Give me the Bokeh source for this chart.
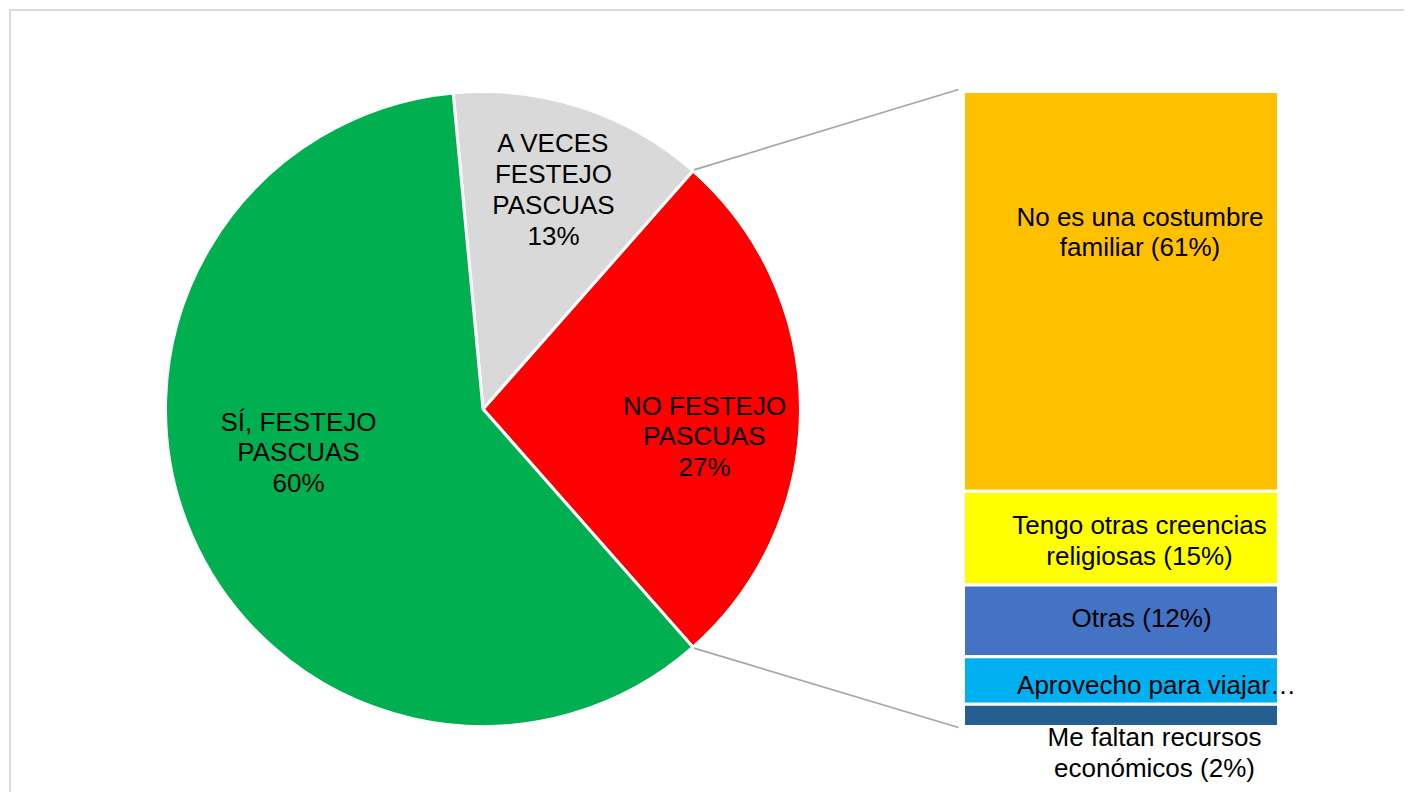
import math
from bokeh.plotting import figure
from bokeh.models import Range1d, ColumnDataSource
from bokeh.core.properties import value
from bokeh.embed import file_html
from bokeh.resources import INLINE

# ---- data ----
pie_labels = ["NO FESTEJO\nPASCUAS\n27%", "A VECES\nFESTEJO\nPASCUAS\n13%", "SÍ, FESTEJO\nPASCUAS\n60%"]
pie_values = [27, 13, 60]
pie_colors = ["#FF0000", "#D9D9D9", "#00B050"]

bar_labels = ["No es una costumbre\nfamiliar (61%)", "Tengo otras creencias\nreligiosas (15%)",
              "Otras (12%)", "Aprovecho para viajar…", "Me faltan recursos\neconómicos (2%)"]
bar_values = [63, 14.8, 11.3, 7.5, 3.5]
bar_colors = ["#FFC000", "#FFFF00", "#4472C4", "#00B0F0", "#255E91"]

# ---- layout (pixel space, screenshot coords) ----
W, H = 1404, 792
def X(px): return px
def Y(py): return H - py

cx, cy, R = X(482.5), Y(408.5), 317.5
bar_left, bar_right = X(963), X(1278)
bar_top, bar_bottom = Y(91), Y(726)

# label positions (px)
pie_label_pos = [(704, 436), (553, 189), (298, 452)]
bar_label_pos = [(1139.5, 231.5), (1139, 540), (1141, 617), (1156, 684), (1154, 752)]

FONT = value("Liberation Sans")

p = figure(width=W, height=H, output_backend="svg", toolbar_location=None,
           x_range=Range1d(0, W), y_range=Range1d(0, H), min_border=0)
p.axis.visible = False
p.grid.visible = False
p.outline_line_color = None
p.background_fill_color = "white"

# outer chart border (left & top)
p.line(x=[X(9.5), X(9.5), W + 5], y=[-5, Y(9.5), Y(9.5)], line_color="#D9D9D9", line_width=2)

# pie: first slice centred on 0 rad
total = sum(pie_values)
red_half = pie_values[0] / total * math.pi
starts, ends = [], []
a = -red_half
for v in pie_values:
    da = v / total * 2 * math.pi
    starts.append(a)
    ends.append(a + da)
    a += da
src = ColumnDataSource(dict(start=starts, end=ends, color=pie_colors))
p.wedge(x=cx, y=cy, radius=R, start_angle="start", end_angle="end", fill_color="color",
        line_color="white", line_width=3, source=src)

# connector lines
ux, uy = cx + R * math.cos(red_half), cy + R * math.sin(red_half)
lx, ly = cx + R * math.cos(-red_half), cy + R * math.sin(-red_half)
p.segment(x0=[ux + 1, lx + 1], y0=[uy + 1, ly - 1], x1=[bar_left - 5, bar_left - 5],
          y1=[bar_top + 2, bar_bottom - 1], line_color="#A6A6A6", line_width=1.8)

# stacked bar
btotal = sum(bar_values)
scale = (bar_top - bar_bottom) / btotal
tops, bots = [], []
t = bar_top
for v in bar_values:
    tops.append(t)
    bots.append(t - v * scale)
    t -= v * scale
bsrc = ColumnDataSource(dict(top=tops, bottom=bots, color=bar_colors))
p.quad(left=bar_left, right=bar_right, top="top", bottom="bottom", fill_color="color",
       line_color="white", line_width=3, source=bsrc)

# labels
p.text(x=[X(a) for a, b in pie_label_pos], y=[Y(b) for a, b in pie_label_pos], text=pie_labels,
       text_align="center", text_baseline="middle", text_font=FONT, text_font_size="26px",
       text_color="#000000", text_line_height=1.03)
p.text(x=[X(a) for a, b in bar_label_pos], y=[Y(b) for a, b in bar_label_pos], text=bar_labels,
       text_align="center", text_baseline="middle", text_font=FONT, text_font_size="26px",
       text_color="#000000", text_line_height=1.03)

open("out.html", "w").write(file_html(p, INLINE))
